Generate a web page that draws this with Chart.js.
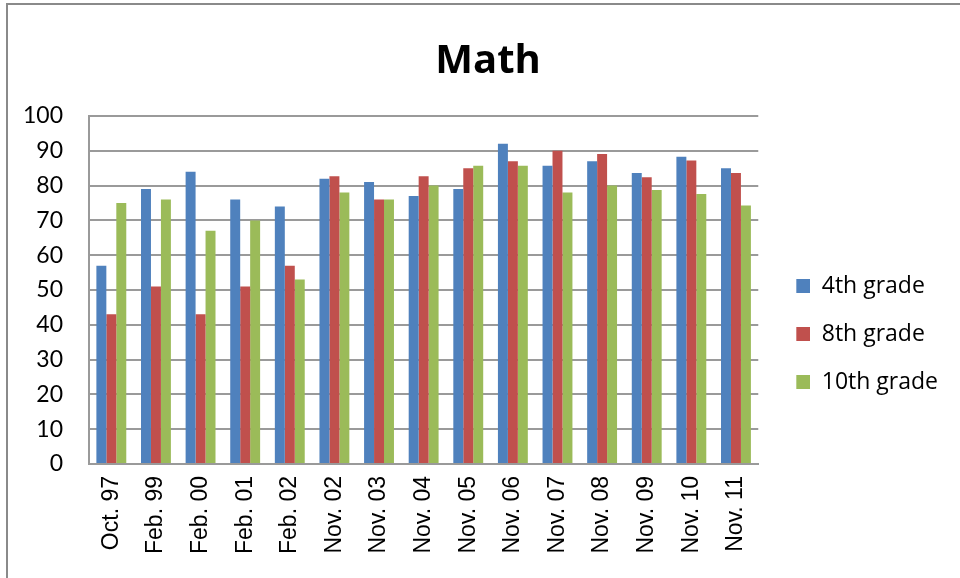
<!DOCTYPE html>
<html>
<head>
<meta charset="utf-8">
<script src="https://cdn.jsdelivr.net/npm/chart.js@4/dist/chart.umd.min.js"></script>
<style>
  body { margin: 0; background: #fff; }
  #frame {
    position: absolute; left: 6px; top: 3px; width: 960px; height: 600px;
    border-left: 2px solid #8a8a8a; border-top: 2px solid #8a8a8a;
  }
  #wrap { position: absolute; left: 0; top: 0; width: 960px; height: 578px; }
</style>
</head>
<body>
<div id="frame"></div>
<div id="wrap"><canvas id="mathChart"></canvas></div>
<script>
const categories = ['Oct. 97', 'Feb. 99', 'Feb. 00', 'Feb. 01', 'Feb. 02', 'Nov. 02', 'Nov. 03',
    'Nov. 04', 'Nov. 05', 'Nov. 06', 'Nov. 07', 'Nov. 08', 'Nov. 09', 'Nov. 10', 'Nov. 11'];

const grade4 = [57, 79, 84, 76, 74, 82, 81, 77, 79, 92, 85.7, 87, 83.6, 88.3, 85];
const grade8 = [43, 51, 43, 51, 57, 82.7, 76, 82.7, 85, 87, 90, 89.1, 82.4, 87.2, 83.6];
const grade10 = [75, 76, 67, 70, 53, 78, 76, 80, 85.7, 85.7, 78, 80, 78.7, 77.6, 74.3];

const yTicks = [0, 10, 20, 30, 40, 50, 60, 70, 80, 90, 100];

const seriesColors = ['#4F81BD', '#C0504D', '#9BBB59'];
const gridColor = '#9a9a9a';

// legend swatch: transparent on the left, coloured square on the right,
// so there is more room between the plot and the legend boxes
function makeSwatch(color) {
    const c = document.createElement('canvas');
    c.width = 27;
    c.height = 14;
    const g = c.getContext('2d');
    g.fillStyle = color;
    g.fillRect(13, 0, 14, 14);
    return c;
}
const swatches = seriesColors.map(makeSwatch);

const ctx = document.getElementById('mathChart').getContext('2d');

new Chart(ctx, {
    type: 'bar',
    data: {
        labels: categories,
        datasets: [
            { label: '4th grade', data: grade4, backgroundColor: seriesColors[0] },
            { label: '8th grade', data: grade8, backgroundColor: seriesColors[1] },
            { label: '10th grade', data: grade10, backgroundColor: seriesColors[2] }
        ]
    },
    options: {
        responsive: true,
        maintainAspectRatio: false,
        animation: false,
        datasets: {
            bar: { categoryPercentage: 0.67, barPercentage: 1.0 }
        },
        layout: {
            padding: { left: -3, right: 12, top: 0, bottom: 12 }
        },
        plugins: {
            title: {
                display: true,
                text: '   Math',
                color: '#000',
                font: { family: 'Open Sans', size: 40, weight: 'bold' },
                padding: { top: 38, bottom: 30 }
            },
            legend: {
                position: 'right',
                title: {
                    display: true,
                    text: ' ',
                    font: { size: 10 },
                    padding: 45
                },
                labels: {
                    usePointStyle: true,
                    pointStyleWidth: 27,
                    boxHeight: 14,
                    padding: 25,
                    color: '#000',
                    font: { family: 'Open Sans', size: 23 },
                    generateLabels: (chart) => {
                        const items = Chart.defaults.plugins.legend.labels.generateLabels(chart);
                        return items.map((item, i) => ({ ...item, pointStyle: swatches[i] }));
                    }
                }
            },
            tooltip: { enabled: false }
        },
        scales: {
            x: {
                grid: { display: false, drawTicks: false },
                border: { display: true, color: gridColor, width: 2 },
                ticks: {
                    color: '#000',
                    maxRotation: 90,
                    minRotation: 90,
                    padding: 12,
                    font: { family: 'Liberation Sans', size: 23 }
                }
            },
            y: {
                min: 0,
                max: 100,
                afterBuildTicks: (axis) => {
                    axis.ticks = yTicks.map(v => ({ value: v }));
                },
                grid: { color: gridColor, lineWidth: 2, drawTicks: false },
                border: { display: true, color: gridColor, width: 2 },
                ticks: {
                    color: '#000',
                    padding: 26,
                    font: { family: 'Lato', size: 23 }
                }
            }
        }
    }
});
</script>
</body>
</html>
